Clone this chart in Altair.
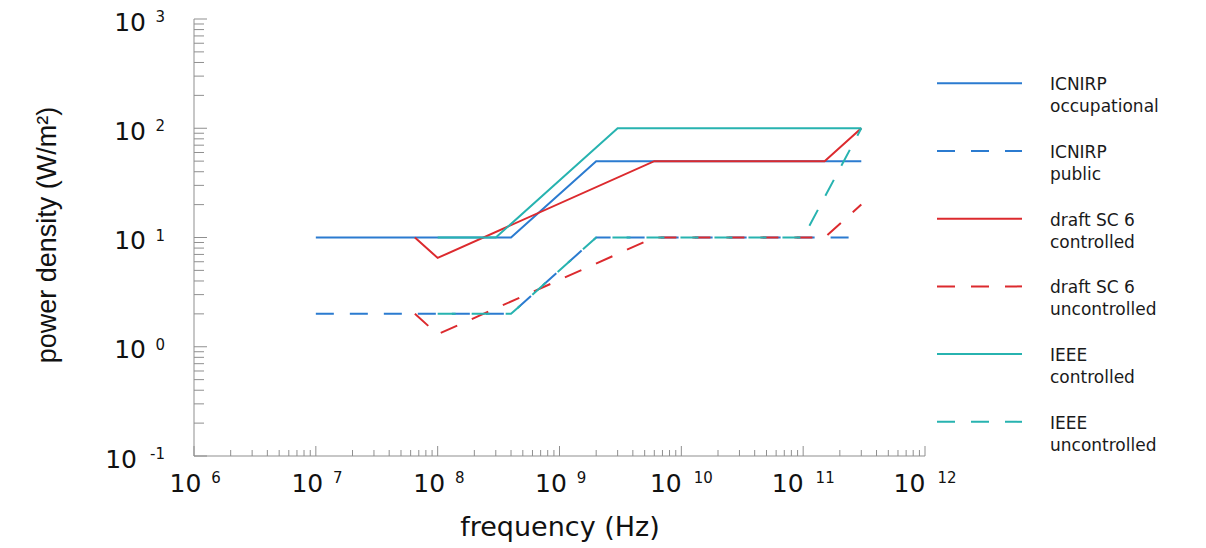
import altair as alt
import pandas as pd

# plot-area size in pixels
W, H = 731, 437

# ---- exposure limit curves: frequency (Hz) and power density (W/m^2) ----
icnirp_occ_f = [1e7, 4e8, 2e9, 3e11]
icnirp_occ_s = [10, 10, 50, 50]

icnirp_pub_f = [1e7, 4e8, 2e9, 3e11]
icnirp_pub_s = [2, 2, 10, 10]

sc6_ctrl_f = [6.5e7, 1e8, 6e9, 1.5e11, 3e11]
sc6_ctrl_s = [10, 6.5, 50, 50, 100]

sc6_unc_f = [6.5e7, 1e8, 6e9, 1.5e11, 3e11]
sc6_unc_s = [2, 1.3, 10, 10, 20]

ieee_ctrl_f = [1e8, 3e8, 3e9, 3e11]
ieee_ctrl_s = [10, 10, 100, 100]

ieee_unc_f = [1e8, 4e8, 2e9, 1e11, 3e11]
ieee_unc_s = [2, 2, 10, 10, 100]

series_names = ["ICNIRP occupational", "ICNIRP public", "draft SC 6 controlled",
                "draft SC 6 uncontrolled", "IEEE controlled", "IEEE uncontrolled"]
legend_lines = [["ICNIRP", "occupational"], ["ICNIRP", "public"],
                ["draft SC 6", "controlled"], ["draft SC 6", "uncontrolled"],
                ["IEEE", "controlled"], ["IEEE", "uncontrolled"]]
series_freqs = [icnirp_occ_f, icnirp_pub_f, sc6_ctrl_f, sc6_unc_f, ieee_ctrl_f, ieee_unc_f]
series_vals = [icnirp_occ_s, icnirp_pub_s, sc6_ctrl_s, sc6_unc_s, ieee_ctrl_s, ieee_unc_s]

BLUE, RED, TEAL = "#2b7bd0", "#dc2a2e", "#27b3b0"
series_colors = [BLUE, BLUE, RED, RED, TEAL, TEAL]
series_dashed = [False, True, False, True, False, True]
DASH = [18, 16]

# ---- axis ticks ----
x_major_exps = [6, 7, 8, 9, 10, 11, 12]
y_major_exps = [-1, 0, 1, 2, 3]
minor_mults = [2, 3, 4, 5, 6, 7, 8, 9]

x_scale = alt.Scale(type="log", domain=[1e6, 1e12], nice=False)
y_scale = alt.Scale(type="log", domain=[0.1, 1000], nice=False)

AXIS_GREY = "#8f8f8f"
TEXT = "#111111"
TICK_FONT = "DejaVu Sans"

one_row = pd.DataFrame({"k": [0]})


def X(field="v"):
    return alt.X(f"{field}:Q", scale=x_scale, axis=None)


def Y(field="v"):
    return alt.Y(f"{field}:Q", scale=y_scale, axis=None)


layers = []

# axis lines
layers.append(alt.Chart(pd.DataFrame({"x0": [1e6], "x1": [1e12], "y0": [0.1]})).mark_rule(
    color=AXIS_GREY, strokeWidth=1).encode(x=X("x0"), x2="x1:Q", y=Y("y0")))
layers.append(alt.Chart(pd.DataFrame({"x0": [1e6], "y0": [0.1], "y1": [1000]})).mark_rule(
    color=AXIS_GREY, strokeWidth=1).encode(x=X("x0"), y=Y("y0"), y2="y1:Q"))

# x ticks (pointing into the plot)
x_major = pd.DataFrame({"v": [10.0 ** e for e in x_major_exps]})
x_minor = pd.DataFrame({"v": [m * 10.0 ** e for e in x_major_exps[:-1] for m in minor_mults]})
layers.append(alt.Chart(x_major).mark_rule(color=AXIS_GREY, strokeWidth=1).encode(
    x=X(), y=alt.value(H), y2=alt.value(H - 10)))
layers.append(alt.Chart(x_minor).mark_rule(color=AXIS_GREY, strokeWidth=1).encode(
    x=X(), y=alt.value(H), y2=alt.value(H - 6)))

# y ticks (pointing into the plot)
y_major = pd.DataFrame({"v": [10.0 ** e for e in y_major_exps]})
y_minor = pd.DataFrame({"v": [m * 10.0 ** e for e in y_major_exps[:-1] for m in minor_mults]})
layers.append(alt.Chart(y_major).mark_rule(color=AXIS_GREY, strokeWidth=1).encode(
    y=Y(), x=alt.value(0), x2=alt.value(13)))
layers.append(alt.Chart(y_minor).mark_rule(color=AXIS_GREY, strokeWidth=1).encode(
    y=Y(), x=alt.value(0), x2=alt.value(10)))

# x tick labels: "10" with a raised exponent
x_lab = pd.DataFrame({"v": [10.0 ** e for e in x_major_exps],
                      "e": [str(e) for e in x_major_exps]})
x_lab_1 = x_lab[x_lab["e"].str.len() == 1]
x_lab_2 = x_lab[x_lab["e"].str.len() == 2]
for df, shift in [(x_lab_1, -8.5), (x_lab_2, -15.5)]:
    layers.append(alt.Chart(df).mark_text(
        text="10", font=TICK_FONT, fontSize=25, color=TEXT, align="center",
        baseline="alphabetic", dx=shift).encode(x=X(), y=alt.value(H + 36)))
layers.append(alt.Chart(x_lab).mark_text(
    font=TICK_FONT, fontSize=15, color=TEXT, align="center", baseline="alphabetic",
    dx=22).encode(x=X(), y=alt.value(H + 27), text="e:N"))

# y tick labels
y_lab = pd.DataFrame({"v": [10.0 ** e for e in y_major_exps],
                      "e": [str(e) for e in y_major_exps]})
y_lab_1 = y_lab[y_lab["e"].str.len() == 1]
y_lab_2 = y_lab[y_lab["e"].str.len() == 2]
for df, xpos in [(y_lab_1, -48), (y_lab_2, -57)]:
    layers.append(alt.Chart(df).mark_text(
        text="10", font=TICK_FONT, fontSize=25, color=TEXT, align="right",
        baseline="alphabetic", dy=11.5).encode(y=Y(), x=alt.value(xpos)))
layers.append(alt.Chart(y_lab).mark_text(
    font=TICK_FONT, fontSize=15, color=TEXT, align="right", baseline="alphabetic",
    dy=3).encode(y=Y(), x=alt.value(-29), text="e:N"))

# axis titles
layers.append(alt.Chart(one_row).mark_text(
    text="frequency (Hz)", font=TICK_FONT, fontSize=27, color=TEXT,
    align="center", baseline="alphabetic").encode(x=alt.value(366), y=alt.value(H + 80)))
layers.append(alt.Chart(one_row).mark_text(
    text="power density (W/m²)", font="Liberation Sans", fontSize=27, color=TEXT,
    angle=270, align="center", baseline="alphabetic").encode(x=alt.value(-138), y=alt.value(216)))

# limit curves
for name, fs, ss, col, dashed in zip(series_names, series_freqs, series_vals,
                                     series_colors, series_dashed):
    df = pd.DataFrame({"f": fs, "s": ss, "i": range(len(fs))})
    props = dict(color=col, strokeWidth=2)
    if dashed:
        props["strokeDash"] = DASH
    layers.append(alt.Chart(df).mark_line(**props).encode(
        x=X("f"), y=Y("s"), order="i:Q"))

# legend
LEG_TOP, LEG_STEP = 64.3, 67.7
for k, (lines, col, dashed) in enumerate(zip(legend_lines, series_colors, series_dashed)):
    ly = LEG_TOP + k * LEG_STEP
    props = dict(color=col, strokeWidth=2)
    if dashed:
        props["strokeDash"] = DASH
    layers.append(alt.Chart(one_row).mark_rule(**props).encode(
        x=alt.value(743), x2=alt.value(828), y=alt.value(ly)))
    layers.append(alt.Chart(one_row).mark_text(
        text=lines, font=TICK_FONT, fontSize=17, color="#1a1a1a", align="left",
        baseline="alphabetic", lineHeight=22).encode(x=alt.value(856), y=alt.value(ly + 7)))

chart = alt.layer(*layers).properties(
    width=W, height=H,
    autosize=alt.AutoSizeParams(type="none"),
    padding={"left": 194, "top": 19, "right": 1206 - 194 - W, "bottom": 548 - 19 - H},
).configure(background="white").configure_view(strokeWidth=0, stroke="transparent")

chart.save("out.html", embed_options={"renderer": "svg", "actions": False})
